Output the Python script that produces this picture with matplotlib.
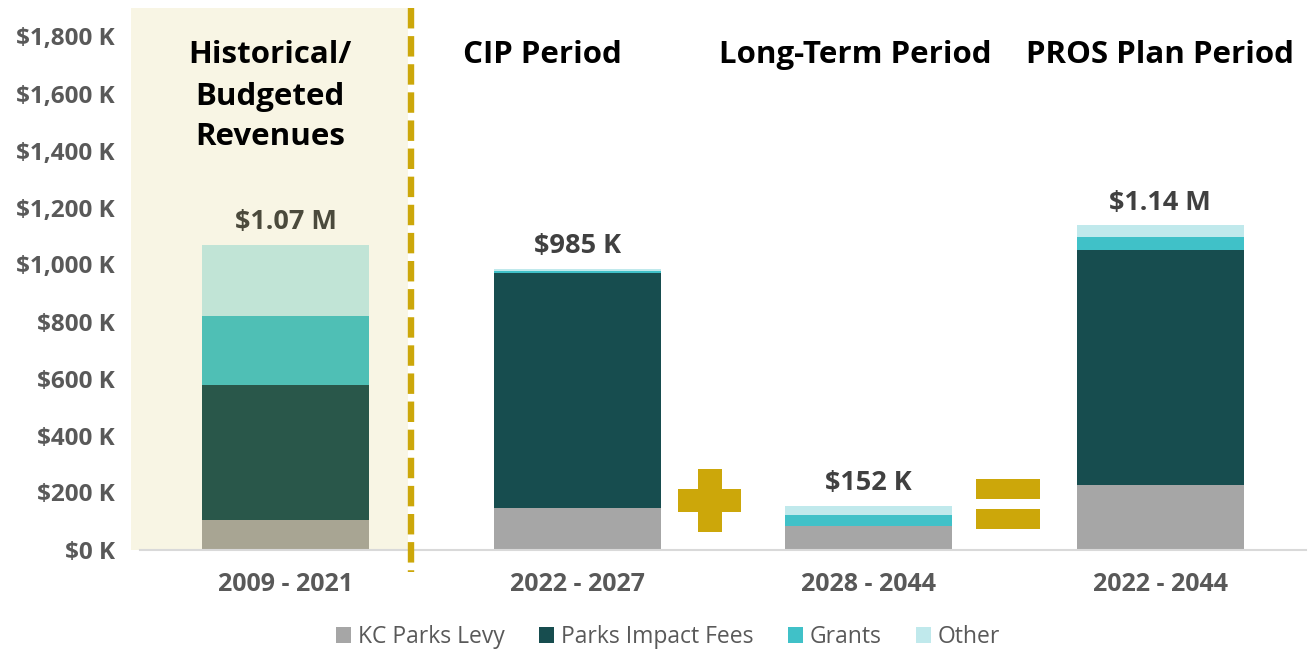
import matplotlib
matplotlib.use("Agg")
import matplotlib.pyplot as plt
from matplotlib.patches import Rectangle
import numpy as np

# ---- data ----
periods = ["2009 - 2021", "2022 - 2027", "2028 - 2044", "2022 - 2044"]
series_names = ["KC Parks Levy", "Parks Impact Fees", "Grants", "Other"]
kc_parks_levy = [103, 145, 83, 228]
parks_impact_fees = [474, 824, 0, 824]
grants = [243, 8, 38, 46]
other = [248, 8, 31, 39]
total_labels = ["$1.07 M", "$985 K", "$152 K", "$1.14 M"]
yticks_k = [0, 200, 400, 600, 800, 1000, 1200, 1400, 1600, 1800]
hist_title_lines = ["Historical/", "Budgeted", "Revenues"]
period_titles = ["CIP Period", "Long-Term Period", "PROS Plan Period"]

colors = ["#a6a6a6", "#174d4f", "#40c1c8", "#c0e9ec"]
hist_colors = ["#a8a593", "#29574a", "#4fbfb5", "#c1e4d6"]

W, H = 1309, 653
fig = plt.figure(figsize=(W / 100, H / 100), dpi=100)
ax = fig.add_axes([140 / W, 1 - 549.5 / H, (1306 - 140) / W, (549.5 - 8) / H])
FONT = "Open Sans"

x = np.arange(len(periods))
ax.set_xlim(-0.5, len(periods) - 0.5)
ax.set_ylim(0, 1900)

# shaded historical area
ax.add_patch(Rectangle((-0.531, 0), 0.951, 1900, facecolor="#f8f5e4", edgecolor="none",
                       zorder=0, clip_on=False))

series = [kc_parks_levy, parks_impact_fees, grants, other]
bottom = np.zeros(len(periods))
for i, (name, vals) in enumerate(zip(series_names, series)):
    vals = np.array(vals, dtype=float)
    cols = [hist_colors[i]] + [colors[i]] * (len(periods) - 1)
    ax.bar(x, vals, bottom=bottom, width=0.573, color=cols, zorder=2, edgecolor="none")
    bottom += vals

for xi, tot, lab in zip(x, bottom, total_labels):
    c = "#4b4a3c" if xi == 0 else "#404040"
    ax.annotate(lab, (xi, tot), xytext=(0, 7), textcoords="offset points",
                ha="center", va="bottom", fontsize=19.5, fontweight="bold",
                color=c, family=FONT)

# dashed divider
ax.plot([0.43, 0.43], [1900, -80], color="#cca70a", lw=4.6, ls=(0, (3.2, 1.2)),
        clip_on=False, zorder=3, solid_capstyle="butt", dash_capstyle="butt")

# axes styling
for s in ["top", "right", "left"]:
    ax.spines[s].set_visible(False)
ax.spines["bottom"].set_color("#d9d9d9")
ax.spines["bottom"].set_linewidth(1.5)
ax.set_yticks(yticks_k)
ax.set_yticklabels([f"${v:,} K" for v in yticks_k])
ax.set_xticks(x)
ax.set_xticklabels(periods)
ax.tick_params(axis="both", length=0, colors="#595959")
ax.tick_params(axis="y", pad=18, labelsize=17.5)
ax.tick_params(axis="x", pad=16, labelsize=18)
for lbl in ax.get_yticklabels() + ax.get_xticklabels():
    lbl.set_fontweight("bold")
    lbl.set_family(FONT)

# section titles (figure pixel positions)
for py, t in zip([55, 97, 137], hist_title_lines):
    fig.text(270 / W, 1 - py / H, t, ha="center", va="center", fontsize=22.5,
             fontweight="bold", color="#000000", family=FONT)
for px, t in zip([542, 855, 1160], period_titles):
    fig.text(px / W, 1 - 55 / H, t, ha="center", va="center", fontsize=22.5,
             fontweight="bold", color="#000000", family=FONT)

# plus sign
gold = "#cca70a"
px_c, py_c = 1.455, 172
ax.add_patch(Rectangle((px_c - 0.108, py_c - 42), 0.216, 84, facecolor=gold, edgecolor="none", zorder=3))
ax.add_patch(Rectangle((px_c - 0.041, py_c - 110), 0.082, 220, facecolor=gold, edgecolor="none", zorder=3))
# equals sign
ex = 2.477
ax.add_patch(Rectangle((ex - 0.11, 176), 0.22, 70, facecolor=gold, edgecolor="none", zorder=3))
ax.add_patch(Rectangle((ex - 0.11, 72), 0.22, 70, facecolor=gold, edgecolor="none", zorder=3))

handles = [Rectangle((0, 0), 1, 1, facecolor=c, edgecolor="none") for c in colors]
leg = fig.legend(handles, series_names, loc="center", bbox_to_anchor=(668 / W, 1 - 637 / H),
                 ncol=4, frameon=False, handlelength=0.65, handleheight=0.65,
                 handletextpad=0.3, columnspacing=1.5, prop={"family": FONT, "size": 16.5})
for t in leg.get_texts():
    t.set_color("#595959")

fig.savefig("out.png", dpi=100)
